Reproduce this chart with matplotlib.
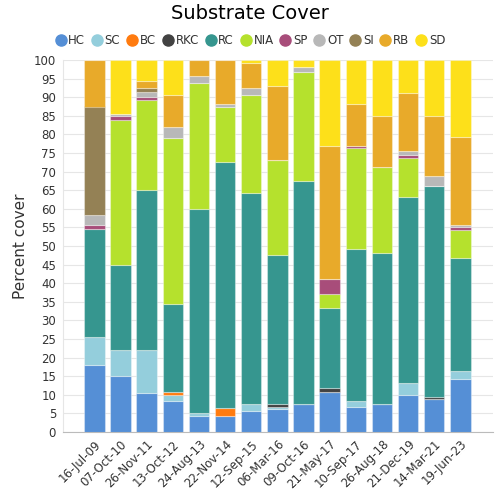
import numpy as np
import matplotlib.pyplot as plt
from matplotlib.lines import Line2D

dates = ['16-Jul-09', '07-Oct-10', '26-Nov-11', '13-Oct-12', '24-Aug-13',
         '22-Nov-14', '12-Sep-15', '06-Mar-16', '09-Oct-16', '21-May-17',
         '10-Sep-17', '26-Aug-18', '21-Dec-19', '14-Mar-21', '19-Jun-23']

cats = ['HC', 'SC', 'BC', 'RKC', 'RC', 'NIA', 'SP', 'OT', 'SI', 'RB', 'SD']

HC  = [18.1, 15.0, 10.6, 8.2, 4.4, 4.4, 5.6, 6.3, 7.5, 10.8, 6.8, 7.5, 10.0, 8.8, 14.3]
SC  = [7.5, 7.0, 11.4, 1.8, 0.7, 0.0, 1.9, 0.3, 0.0, 0.0, 1.4, 0.0, 3.2, 0.0, 2.1]
BC  = [0.0, 0.0, 0.0, 0.7, 0.0, 2.0, 0.0, 0.0, 0.0, 0.0, 0.0, 0.0, 0.0, 0.0, 0.0]
RKC = [0.0, 0.0, 0.0, 0.0, 0.0, 0.0, 0.0, 0.9, 0.0, 1.1, 0.0, 0.0, 0.0, 0.6, 0.0]
RC  = [28.9, 23.0, 43.0, 23.7, 54.9, 66.1, 56.8, 40.0, 60.1, 21.3, 41.1, 40.6, 49.9, 56.8, 30.5]
NIA = [0.0, 38.8, 24.2, 44.5, 33.7, 15.0, 26.4, 25.6, 29.3, 3.8, 27.0, 23.2, 10.6, 0.0, 7.5]
SP  = [1.2, 1.2, 0.8, 0.0, 0.0, 0.0, 0.0, 0.0, 0.0, 4.2, 0.7, 0.0, 0.8, 0.0, 0.6]
OT  = [2.5, 0.5, 1.4, 3.0, 1.9, 0.7, 1.9, 0.0, 1.2, 0.0, 0.0, 0.0, 1.1, 2.5, 0.6]
SI  = [29.3, 0.0, 1.2, 0.0, 0.0, 0.0, 0.0, 0.0, 0.0, 0.0, 0.0, 0.0, 0.0, 0.0, 0.0]
RB  = [12.5, 0.0, 1.8, 8.8, 4.4, 11.8, 6.7, 20.0, 0.0, 35.8, 11.1, 13.7, 15.6, 16.3, 23.8]
SD  = [0.0, 14.4, 5.6, 9.3, 0.0, 0.0, 0.7, 6.9, 1.9, 23.0, 11.9, 15.0, 8.8, 15.0, 20.6]

colors = ['#558fd6', '#94cedc', '#ff7b0f', '#424242', '#36968f', '#b5e12d',
          '#a84d7a', '#b8b8b8', '#948155', '#e8aa2a', '#fde01a']

series = [HC, SC, BC, RKC, RC, NIA, SP, OT, SI, RB, SD]

fig = plt.figure(figsize=(5, 5), dpi=100)
ax = fig.add_axes([0.126, 0.136, 0.86, 0.744])

x = np.arange(len(dates))
bottom = np.zeros(len(dates))
for vals, col in zip(series, colors):
    vals = np.array(vals)
    ax.bar(x, vals, 0.78, bottom=bottom, color=col,
           edgecolor=(1, 1, 1, 0.35), linewidth=0.8, zorder=3)
    bottom += vals

ax.set_xlim(-1.2, len(dates) - 1 + 1.25)
ax.set_ylim(0, 100)
ax.set_yticks(np.arange(0, 101, 5))
ax.yaxis.grid(True, color='#e6e6e6', linewidth=0.8, zorder=0)
ax.set_xticks(x)
ax.set_xticklabels(dates, rotation=45, ha='right', rotation_mode='anchor',
                   fontsize=8.5, color='#333333')
ax.tick_params(axis='y', labelsize=8.5, colors='#333333', length=0, pad=5)
ax.tick_params(axis='x', length=0, pad=4)
for s in ['top', 'right']:
    ax.spines[s].set_visible(False)
ax.spines['left'].set_color('#e6e6e6')
ax.spines['bottom'].set_color('#bbbbbb')
ax.set_ylabel('Percent cover', fontsize=11, color='#333333', labelpad=4)

fig.text(0.5, 0.973, 'Substrate Cover', ha='center', va='center', fontsize=14)

handles = [Line2D([], [], marker='o', linestyle='none', markersize=8,
                  markerfacecolor=c, markeredgecolor=c) for c in colors]
fig.legend(handles, cats, loc='center', bbox_to_anchor=(0.5, 0.919), ncol=11,
           frameon=False, fontsize=8.5, handletextpad=0.15, columnspacing=0.5,
           handlelength=1.0, labelcolor='#333333')

fig.savefig('out.png', dpi=100)
